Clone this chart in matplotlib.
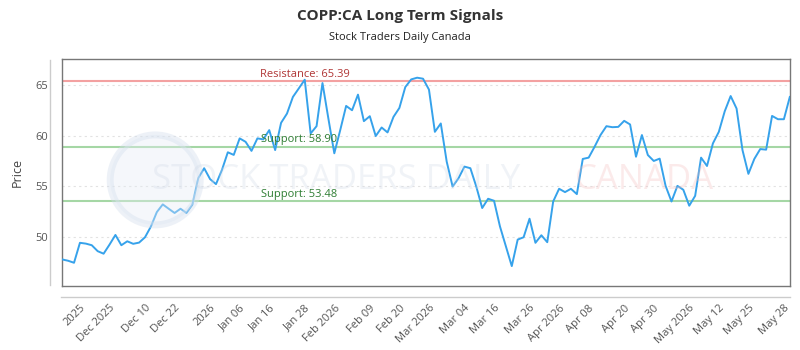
import numpy as np
import matplotlib.pyplot as plt
from matplotlib.lines import Line2D
from matplotlib.patches import Ellipse

plt.rcParams['font.family'] = ['Open Sans', 'DejaVu Sans']

# 終値 (チャートから読み取り)
prices = [
    47.73, 47.6, 47.4, 49.38, 49.3, 49.14, 48.55, 48.3, 49.2, 50.16,
    49.14, 49.53, 49.28, 49.4, 49.93, 51.0, 52.43, 53.19, 52.76, 52.34,
    52.76, 52.34, 53.16, 55.79, 56.78, 55.7, 55.2, 56.6, 58.36, 58.1,
    59.74, 59.4, 58.5, 59.74, 59.64, 60.56, 58.58, 61.28, 62.2, 63.85,
    64.7, 65.56, 60.23, 60.95, 65.23, 61.7, 58.26, 60.56, 62.96, 62.53,
    64.08, 61.45, 61.94, 59.97, 60.82, 60.33, 61.87, 62.76, 64.83, 65.59,
    65.76, 65.66, 64.58, 60.39, 61.22, 57.43, 54.96, 55.79, 56.94, 56.78,
    54.96, 52.83, 53.75, 53.55, 51.01, 49.04, 47.07, 49.7, 49.93, 51.77,
    49.38, 50.13, 49.44, 53.48, 54.74, 54.41, 54.74, 54.21, 57.7, 57.83,
    58.91, 60.07, 60.95, 60.85, 60.88, 61.48, 61.12, 57.92, 60.07, 58.09,
    57.5, 57.73, 55.03, 53.48, 55.03, 54.64, 53.06, 54.04, 57.83, 57.0,
    59.24, 60.39, 62.43, 63.94, 62.7, 58.58, 56.22, 57.7, 58.68, 58.62,
    61.97, 61.64, 61.64, 63.85,
]

tick_pos = [3, 8, 14, 19, 25, 30, 35, 41, 46, 52, 57, 62, 68, 73, 79, 84, 89, 95, 100, 106, 111, 116, 122]
tick_labels = ['2025', 'Dec 2025', 'Dec 10', 'Dec 22', '2026', 'Jan 06', 'Jan 16', 'Jan 28',
               'Feb 2026', 'Feb 09', 'Feb 20', 'Mar 2026', 'Mar 04', 'Mar 16', 'Mar 26',
               'Apr 2026', 'Apr 08', 'Apr 20', 'Apr 30', 'May 2026', 'May 12', 'May 25', 'May 28']

resistance = 65.39
supports = [58.90, 53.48]

x = np.arange(len(prices))

fig = plt.figure(figsize=(8, 3.5), dpi=100)
ax = fig.add_axes([0.077, 0.183, 0.911, 0.648])

# 透かし
logo = Ellipse((0.194, 0.486), 0.1125, 0.257, transform=fig.transFigure, facecolor='#e6ecf5',
               edgecolor='#d3deed', linewidth=5, alpha=0.4, zorder=0)
fig.patches.append(logo)
fig.text(0.42, 0.486, 'STOCK TRADERS DAILY', fontsize=25, color='#cfd8e6', alpha=0.3,
         ha='center', va='center', zorder=0)
fig.text(0.805, 0.486, 'CANADA', fontsize=25, color='#f4bcbc', alpha=0.3,
         ha='center', va='center', zorder=0)

ax.plot(x, prices, color='#36a2eb', linewidth=1.4, zorder=3)

ax.axhline(resistance, color='#f08a8a', linewidth=1.5, alpha=0.8, zorder=2)
ax.text(41, resistance + 0.15, f'Resistance: {resistance:.2f}', color='#b03535',
        fontsize=8, ha='center', va='bottom', zorder=4)
for s in supports:
    ax.axhline(s, color='#8fce8f', linewidth=1.5, alpha=0.8, zorder=2)
    ax.text(40, s + 0.15, f'Support: {s:.2f}', color='#2e7d32',
            fontsize=8, ha='center', va='bottom', zorder=4)

ax.set_xlim(-0.1, len(prices) - 0.9)
ax.set_ylim(45.1, 67.6)
ax.set_yticks([50, 55, 60, 65])
ax.set_xticks(tick_pos)
ax.set_xticklabels(tick_labels, rotation=45, ha='right', rotation_mode='anchor')
ax.tick_params(axis='both', length=0, labelsize=8, colors='#555555', pad=10)
ax.tick_params(axis='x', pad=12)
ax.grid(axis='y', linestyle=(0, (2, 3)), color='#e2e2e2', linewidth=0.8)
for sp in ax.spines.values():
    sp.set_color('#777777')
    sp.set_linewidth(1.0)
ax.set_ylabel('Price', fontsize=9, color='#444444', labelpad=8)

# 外側の軸線
fig.add_artist(Line2D([0.063, 0.063], [0.185, 0.83], color='#cccccc', linewidth=1))
fig.add_artist(Line2D([0.076, 0.988], [0.151, 0.151], color='#cccccc', linewidth=1))

fig.suptitle('COPP:CA Long Term Signals', x=0.5, y=0.975, fontsize=11, fontweight='bold', color='#333333')
fig.text(0.5, 0.885, 'Stock Traders Daily Canada', ha='center', fontsize=8, color='#222222')

fig.savefig('out.png', dpi=100)
